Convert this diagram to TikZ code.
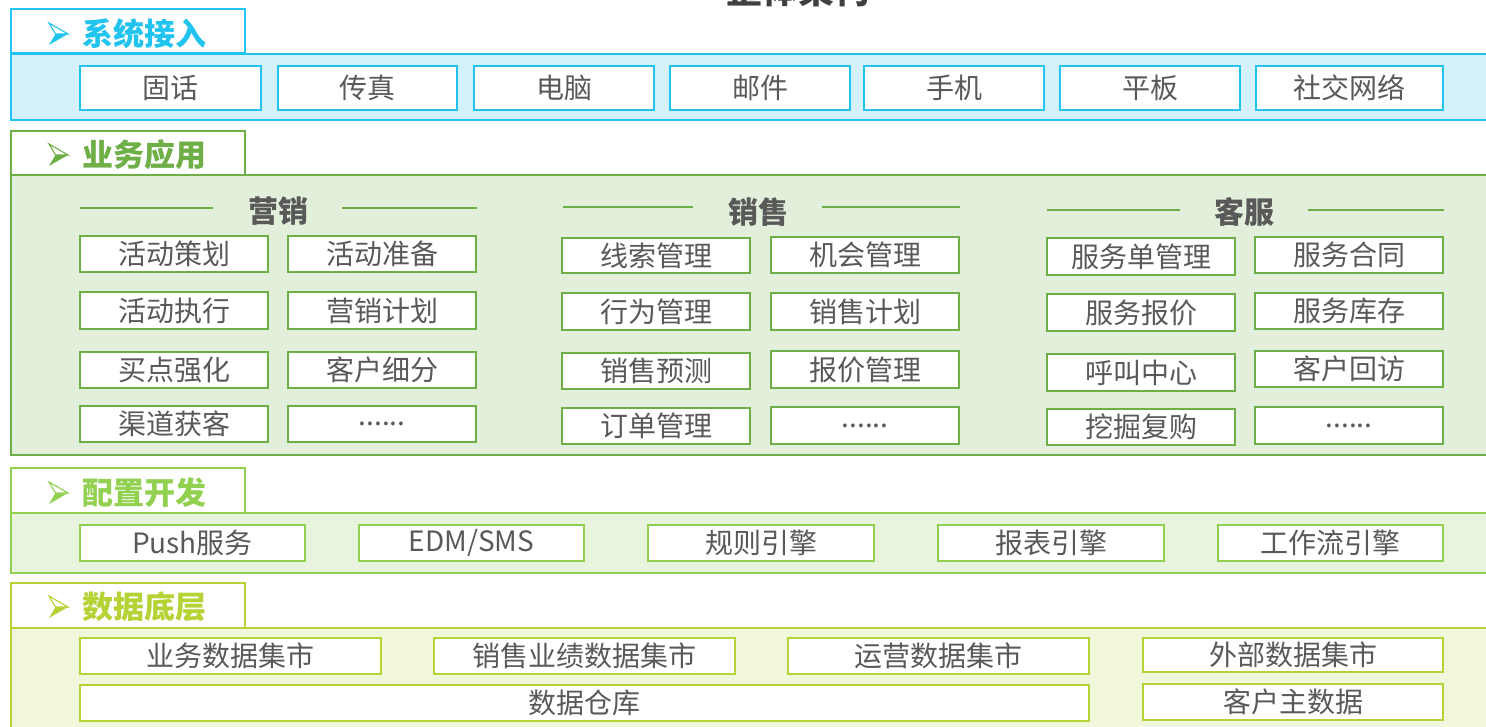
\documentclass[tikz,border=0pt]{standalone}
\usepackage{fontspec}
\setmainfont{Noto Sans CJK SC}
\definecolor{cA}{HTML}{21C4EE}
\definecolor{fA}{HTML}{D3F2FB}
\definecolor{cB}{HTML}{6EAF47}
\definecolor{fB}{HTML}{E2EFDA}
\definecolor{cC}{HTML}{92D050}
\definecolor{fC}{HTML}{E9F4DE}
\definecolor{cD}{HTML}{B5D334}
\definecolor{fD}{HTML}{F0F7DA}
\definecolor{txt}{HTML}{595959}
\definecolor{ttl}{HTML}{404040}
\tikzset{
  box/.style={draw=#1, fill=white, line width=2.2pt, inner sep=0pt,
    font=\fontsize{28}{28}\selectfont, text=txt},
  panel/.style={draw=#1, line width=2.5pt},
  tabbox/.style={draw=#1, fill=white, line width=2.5pt},
  tabtext/.style={anchor=west, inner sep=0pt, text=#1,
    font=\bfseries\fontsize{31}{31}\selectfont},
  head/.style={inner sep=0pt, text=txt, font=\bfseries\fontsize{30}{30}\selectfont},
  rule/.style={draw=cB, line width=2.5pt},
}
% box from outer corners (x1,y1)-(x2,y2)
\newcommand\bx[7]{%
  \pgfmathsetmacro\bxc{(#3+#5)/2}\pgfmathsetmacro\byc{(#4+#6)/2}%
  \pgfmathsetmacro\bxw{#5-#3}\pgfmathsetmacro\bxh{#6-#4}%
  \node[#1, minimum width=\bxw pt, minimum height=\bxh pt] (#2) at (\bxc,\byc) {#7};}
% arrowhead bullet centred at (58,#2)
\newcommand\tabmark[2]{%
  \begin{scope}[shift={(0,#2)}]
    \fill[#1, line join=miter] (49,11) -- (68,0) -- (55.5,0) -- cycle;
    \filldraw[fill=white, draw=#1, line width=1.1pt, line join=miter] (49,-11) -- (68,0) -- (55.5,0) -- cycle;
  \end{scope}}
\begin{document}
\begin{tikzpicture}[x=1pt,y=-1pt]
\useasboundingbox (0,0) rectangle (1486,727);
% title (cut off at the top, as in the reference)
\node[anchor=base, inner sep=0pt, text=ttl, font=\bfseries\fontsize{36}{36}\selectfont] (title) at (798,4) {整体架构};

% ---------- panels ----------
\draw[panel=cA, fill=fA] (11,54) rectangle (1500,120);
\draw[panel=cB, fill=fB] (11,175) rectangle (1500,455);
\draw[panel=cC, fill=fC] (11,513) rectangle (1500,573);
\draw[panel=cD, fill=fD] (11,628) rectangle (1500,740);

% ---------- tabs ----------
\draw[tabbox=cA] (11,9) rectangle (245,53);
\tabmark{cA}{34}
\node[tabtext=cA] (tA) at (82,34) {系统接入};
\draw[tabbox=cB] (11,131) rectangle (245,175);
\tabmark{cB}{155}
\node[tabtext=cB] (tB) at (82,155) {业务应用};
\draw[tabbox=cC] (11,468) rectangle (245,513);
\tabmark{cC}{493}
\node[tabtext=cC] (tC) at (82,493) {配置开发};
\draw[tabbox=cD] (11,583) rectangle (245,628);
\tabmark{cD}{607}
\node[tabtext=cD] (tD) at (82,607) {数据底层};

% ---------- section 1 ----------
\bx{box=cA}{a1}{80}{66}{261}{110}{固话}
\bx{box=cA}{a2}{278}{66}{457}{110}{传真}
\bx{box=cA}{a3}{474}{66}{654}{110}{电脑}
\bx{box=cA}{a4}{670}{66}{850}{110}{邮件}
\bx{box=cA}{a5}{864}{66}{1044}{110}{手机}
\bx{box=cA}{a6}{1060}{66}{1240}{110}{平板}
\bx{box=cA}{a7}{1256}{66}{1443}{110}{社交网络}

% ---------- section 2 heads ----------
\node[head] (hm) at (278,211) {营销};
\draw[rule] (80,208) -- (213,208);
\draw[rule] (342,208) -- (477,208);
\node[head] (hs) at (758,212) {销售};
\draw[rule] (563,207) -- (693,207);
\draw[rule] (822,207) -- (960,207);
\node[head] (hk) at (1244,212) {客服};
\draw[rule] (1047,210) -- (1180,210);
\draw[rule] (1308,210) -- (1444,210);

% 营销
\bx{box=cB}{m1}{80}{236}{268}{272}{活动策划}
\bx{box=cB}{m2}{288}{236}{476}{272}{活动准备}
\bx{box=cB}{m3}{80}{292}{268}{329}{活动执行}
\bx{box=cB}{m4}{288}{292}{476}{329}{营销计划}
\bx{box=cB}{m5}{80}{352}{268}{388}{买点强化}
\bx{box=cB}{m6}{288}{352}{476}{388}{客户细分}
\bx{box=cB}{m7}{80}{406}{268}{442}{渠道获客}
\bx{box=cB}{m8}{288}{406}{476}{442}{......}
% 销售
\bx{box=cB}{s1}{562}{238}{750}{273}{线索管理}
\bx{box=cB}{s2}{771}{237}{959}{273}{机会管理}
\bx{box=cB}{s3}{562}{293}{750}{330}{行为管理}
\bx{box=cB}{s4}{771}{293}{959}{330}{销售计划}
\bx{box=cB}{s5}{562}{353}{750}{389}{销售预测}
\bx{box=cB}{s6}{771}{351}{959}{388}{报价管理}
\bx{box=cB}{s7}{562}{408}{750}{444}{订单管理}
\bx{box=cB}{s8}{771}{407}{959}{444}{......}
% 客服
\bx{box=cB}{k1}{1047}{238}{1235}{275}{服务单管理}
\bx{box=cB}{k2}{1255}{237}{1443}{273}{服务合同}
\bx{box=cB}{k3}{1047}{294}{1235}{331}{服务报价}
\bx{box=cB}{k4}{1255}{293}{1443}{329}{服务库存}
\bx{box=cB}{k5}{1047}{354}{1235}{391}{呼叫中心}
\bx{box=cB}{k6}{1255}{351}{1443}{387}{客户回访}
\bx{box=cB}{k7}{1047}{409}{1235}{445}{挖掘复购}
\bx{box=cB}{k8}{1255}{407}{1443}{444}{......}

% ---------- section 3 ----------
\bx{box=cC}{p1}{80}{525}{305}{561}{Push服务}
\bx{box=cC}{p2}{359}{525}{584}{561}{EDM/SMS}
\bx{box=cC}{p3}{648}{525}{874}{561}{规则引擎}
\bx{box=cC}{p4}{938}{525}{1164}{561}{报表引擎}
\bx{box=cC}{p5}{1218}{525}{1443}{561}{工作流引擎}

% ---------- section 4 ----------
\bx{box=cD}{d1}{80}{638}{381}{674}{业务数据集市}
\bx{box=cD}{d2}{434}{638}{735}{674}{销售业绩数据集市}
\bx{box=cD}{d3}{788}{638}{1089}{674}{运营数据集市}
\bx{box=cD}{d4}{1143}{638}{1443}{672}{外部数据集市}
\bx{box=cD}{d5}{80}{685}{1089}{721}{数据仓库}
\bx{box=cD}{d6}{1143}{684}{1443}{720}{客户主数据}
\end{tikzpicture}
\end{document}
